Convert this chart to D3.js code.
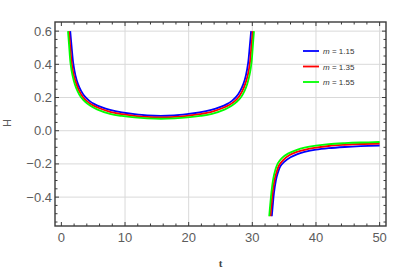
<!DOCTYPE html>
<html>
  <head>
    <script src="https://d3js.org/d3.v7.min.js"></script>
  </head>
  <body>
<svg id="svg"></svg>
<style>
body {
  margin: 0;
  background: #fff;
}
#svg {
  display: block;
}
</style>
<script type="text/javascript">
// [t, H] pairs, one array per branch
const blueLeft = [[1.39, 0.600], [1.6, 0.510], [1.87, 0.405], [2.2, 0.335], [2.6, 0.282], [3.1, 0.240], [3.71, 0.205], [4.4, 0.180], [5.2, 0.160], [6.3, 0.142], [7.64, 0.126], [9.5, 0.111], [11.5, 0.100], [13.5, 0.092], [15.6, 0.089],
  [17.7, 0.092], [19.7, 0.100], [21.7, 0.111], [23.56, 0.126], [24.9, 0.142], [26.0, 0.160], [26.8, 0.180], [27.49, 0.205], [28.1, 0.240], [28.6, 0.282], [29.0, 0.335], [29.33, 0.405], [29.6, 0.510], [29.81, 0.600]]
const redLeft = [[1.18, 0.600], [1.38, 0.510], [1.63, 0.405], [1.95, 0.335], [2.35, 0.282], [2.8, 0.240], [3.35, 0.205], [4.0, 0.178], [4.8, 0.157], [5.9, 0.137], [7.64, 0.114], [9.5, 0.100], [11.5, 0.090], [13.5, 0.083], [15.62, 0.080],
  [17.74, 0.083], [19.74, 0.090], [21.74, 0.100], [23.6, 0.114], [25.34, 0.137], [26.44, 0.157], [27.24, 0.178], [27.89, 0.205], [28.44, 0.240], [28.89, 0.282], [29.29, 0.335], [29.61, 0.405], [29.86, 0.510], [30.06, 0.600]]
const greenLeft = [[1.04, 0.600], [1.22, 0.510], [1.44, 0.405], [1.74, 0.335], [2.1, 0.282], [2.52, 0.240], [3.03, 0.205], [3.7, 0.176], [4.5, 0.152], [5.6, 0.129], [7.64, 0.102], [9.5, 0.089], [11.5, 0.080], [13.5, 0.0745], [15.65, 0.072],
  [17.8, 0.0745], [19.8, 0.080], [21.8, 0.089], [23.66, 0.102], [25.7, 0.129], [26.8, 0.152], [27.6, 0.176], [28.27, 0.205], [28.78, 0.240], [29.2, 0.282], [29.56, 0.335], [29.86, 0.405], [30.08, 0.510], [30.26, 0.600]]

const blueRight = [[33.06, -0.515], [33.2, -0.455], [33.4, -0.375], [33.7, -0.300], [34.0, -0.255], [34.4, -0.215], [35.0, -0.188], [36.0, -0.160], [37.0, -0.142], [38.2, -0.128], [40.0, -0.114], [42.0, -0.105], [44.5, -0.098], [47.0, -0.093], [50.0, -0.089]]
const redRight = [[32.85, -0.515], [33.0, -0.450], [33.2, -0.370], [33.5, -0.295], [33.8, -0.250], [34.2, -0.208], [34.8, -0.178], [35.8, -0.148], [37.0, -0.128], [38.2, -0.115], [40.0, -0.102], [42.0, -0.092], [44.5, -0.085], [47.0, -0.080], [50.0, -0.077]]
const greenRight = [[32.65, -0.515], [32.8, -0.450], [33.0, -0.370], [33.3, -0.287], [33.6, -0.238], [34.0, -0.197], [34.6, -0.166], [35.6, -0.138], [37.0, -0.115], [38.2, -0.102], [40.0, -0.090], [42.0, -0.081], [44.5, -0.075], [47.0, -0.071], [50.0, -0.068]]

const seriesMs = ["1.15", "1.35", "1.55"]
const seriesColors = ["#0000ff", "#ff0000", "#00ff00"]
const xTicks = [0, 10, 20, 30, 40, 50]
const yTicks = [-0.4, -0.2, 0.0, 0.2, 0.4, 0.6]

const W = 409, H = 269
const pL = 55, pR = 386, pT = 22, pB = 226

const svg = d3.select("#svg").attr("width", W).attr("height", H)
  .style("font-family", "'Liberation Sans', Arial, sans-serif")

const x = d3.scaleLinear().domain([-1, 51]).range([pL, pR])
const y = d3.scaleLinear().domain([-0.574, 0.655]).range([pB, pT])

// grid
const grid = svg.append("g").attr("stroke", "#d9d9d9").attr("stroke-width", 1)
grid.selectAll("line.gx").data(xTicks.filter(d => d > 0)).enter().append("line")
  .attr("x1", d => x(d)).attr("x2", d => x(d)).attr("y1", pT).attr("y2", pB)
grid.selectAll("line.gy").data(yTicks).enter().append("line")
  .attr("y1", d => y(d)).attr("y2", d => y(d)).attr("x1", pL).attr("x2", pR)

// curves
const line = d3.line().x(d => x(d[0])).y(d => y(d[1])).curve(d3.curveCatmullRom.alpha(0.5))
const branches = [[blueLeft, blueRight], [redLeft, redRight], [greenLeft, greenRight]]
const curves = svg.append("g").attr("fill", "none").attr("stroke-width", 1.8)
branches.forEach((b, i) => {
  b.forEach(pts => {
    curves.append("path").attr("d", line(pts)).attr("stroke", seriesColors[i])
  })
})

// frame ticks, inside, on all four sides
const frameColor = "#3a3a3a"
const ax = svg.append("g").attr("stroke", frameColor)
const xMinor = d3.range(0, 51, 2).filter(d => d % 10 !== 0)
const yMinor = d3.range(-11, 13).filter(d => d % 4 !== 0).map(d => d * 0.05)
ax.selectAll("line.xb").data(xTicks).enter().append("line")
  .attr("x1", d => x(d)).attr("x2", d => x(d)).attr("y1", pB).attr("y2", pB - 4)
ax.selectAll("line.xt").data(xTicks).enter().append("line")
  .attr("x1", d => x(d)).attr("x2", d => x(d)).attr("y1", pT).attr("y2", pT + 4)
ax.selectAll("line.xbm").data(xMinor).enter().append("line")
  .attr("x1", d => x(d)).attr("x2", d => x(d)).attr("y1", pB).attr("y2", pB - 2.5)
ax.selectAll("line.xtm").data(xMinor).enter().append("line")
  .attr("x1", d => x(d)).attr("x2", d => x(d)).attr("y1", pT).attr("y2", pT + 2.5)
ax.selectAll("line.yl").data(yTicks).enter().append("line")
  .attr("y1", d => y(d)).attr("y2", d => y(d)).attr("x1", pL).attr("x2", pL + 4)
ax.selectAll("line.yr").data(yTicks).enter().append("line")
  .attr("y1", d => y(d)).attr("y2", d => y(d)).attr("x1", pR).attr("x2", pR - 4)
ax.selectAll("line.ylm").data(yMinor).enter().append("line")
  .attr("y1", d => y(d)).attr("y2", d => y(d)).attr("x1", pL).attr("x2", pL + 2.5)
ax.selectAll("line.yrm").data(yMinor).enter().append("line")
  .attr("y1", d => y(d)).attr("y2", d => y(d)).attr("x1", pR).attr("x2", pR - 2.5)

svg.append("rect").attr("x", pL).attr("y", pT).attr("width", pR - pL).attr("height", pB - pT)
  .attr("fill", "none").attr("stroke", frameColor).attr("stroke-width", 1.4)

// tick labels
const labColor = "#5c5c5c"
svg.selectAll("text.xl").data(xTicks).enter().append("text")
  .attr("x", d => x(d)).attr("y", 242).attr("text-anchor", "middle")
  .attr("font-size", 13).attr("fill", labColor).text(d => d)
svg.selectAll("text.yl").data(yTicks).enter().append("text")
  .attr("x", 52).attr("y", d => y(d) + 4.5).attr("text-anchor", "end")
  .attr("font-size", 13).attr("fill", labColor)
  .text(d => (d < 0 ? "\u2212" : "") + Math.abs(d).toFixed(1))

// axis labels
svg.append("text").attr("transform", "translate(10.5,123) rotate(-90)")
  .attr("text-anchor", "middle").attr("font-size", 11).attr("fill", labColor)
  .text("H")
svg.append("text").attr("x", (pL + pR) / 2).attr("y", 267).attr("text-anchor", "middle")
  .attr("font-size", 11).attr("font-weight", "bold").attr("fill", "#444")
  .style("font-family", "'Liberation Serif', serif").text("t")

// legend
const legend = svg.append("g")
seriesColors.forEach((c, i) => {
  const ly = 51 + i * 15.5
  legend.append("line").attr("x1", 303).attr("x2", 319).attr("y1", ly).attr("y2", ly)
    .attr("stroke", c).attr("stroke-width", 1.8)
  const t = legend.append("text").attr("x", 323).attr("y", ly + 3).attr("font-size", 8).attr("fill", "#333")
  t.append("tspan").attr("font-style", "italic").text("m")
  t.append("tspan").text(" = " + seriesMs[i])
})
</script>
</body>
</html>
